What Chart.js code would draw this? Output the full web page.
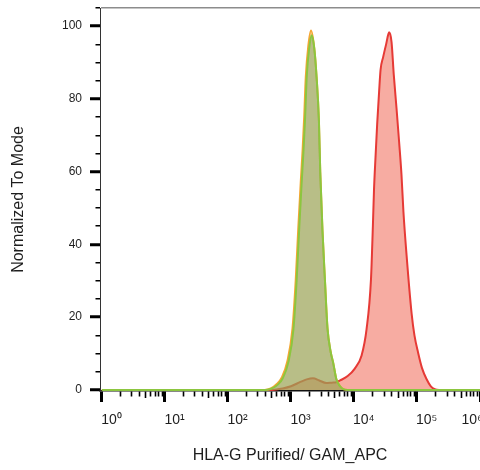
<!DOCTYPE html>
<html>
<head>
<meta charset="utf-8">
<script src="https://cdn.jsdelivr.net/npm/chart.js@4.4.1/dist/chart.umd.min.js"></script>
<style>
  html, body { margin: 0; padding: 0; background: #ffffff; }
  canvas { display: block; }
</style>
</head>
<body>
<canvas id="c" width="480" height="470"></canvas>
<script>
// ---- text ----
const xTitle = 'HLA-G Purified/ GAM_APC';
const yTitle = 'Normalized To Mode';

// ---- x axis: decades (log10 units) and their labels ----
const decades = [0, 1, 2, 3, 4, 5, 6];
const decadeLabels = ['10⁰', '10¹', '10²', '10³', '10⁴', '10⁵', '10⁶'];

// ---- y axis ----
const yLabelTicks = [0, 20, 40, 60, 80, 100];

// ---- series (x in log10 of intensity, y = % of mode) ----
const greenX = [0, 2.6, 2.7, 2.8, 2.87, 2.96, 3.04, 3.09, 3.13, 3.17, 3.2, 3.225, 3.25, 3.29, 3.328, 3.37, 3.407, 3.444, 3.465, 3.5, 3.54, 3.58, 3.63, 3.67, 3.72, 3.78, 3.83, 3.9, 6];
const greenY = [0, 0, 0.4, 1.6, 3.2, 7.7, 16.7, 30, 44, 57, 66, 75, 86, 94, 97.5, 94, 86, 74, 60, 44, 30, 17, 10.5, 7.5, 3, 1, 0.2, 0, 0];

const orangeX = [0, 2.58, 2.68, 2.78, 2.855, 2.945, 3.025, 3.075, 3.115, 3.155, 3.185, 3.21, 3.235, 3.275, 3.318, 3.37, 3.407, 3.444, 3.465, 3.5, 3.54, 3.58, 3.63, 3.67, 3.72, 3.78, 3.83, 3.9, 6];
const orangeY = [0, 0, 0.4, 1.7, 3.4, 8, 17, 30, 44, 57, 66, 75, 86, 94.5, 98.8, 94, 86, 74, 60, 44, 30, 17, 10.5, 7.5, 3, 1, 0.2, 0, 0];

const redX = [0, 2.7, 2.87, 3.0, 3.15, 3.25, 3.35, 3.45, 3.56, 3.65, 3.72, 3.78, 3.9, 4.01, 4.12, 4.2, 4.27, 4.3, 4.318, 4.342, 4.368, 4.399, 4.422, 4.463, 4.51, 4.558, 4.596, 4.632, 4.675, 4.716, 4.754, 4.785, 4.835, 4.915, 4.96, 5.017, 5.08, 5.151, 5.22, 5.282, 5.35, 6];
const redY = [0, 0, 0.4, 1.0, 2.2, 2.9, 3.2, 2.6, 1.9, 2.0, 2.1, 2.6, 3.8, 5.8, 9.4, 16.7, 30.4, 45, 55, 64, 73, 82, 88, 91.5, 95, 98.3, 95.7, 86.6, 77.5, 68.3, 59.2, 49, 37, 21, 15, 10.3, 6, 3, 1, 0.2, 0, 0];

const toPoints = (xs, ys) => xs.map((x, i) => ({ x: x, y: ys[i] }));

const FONT = "'Liberation Sans', Arial, Helvetica, sans-serif";
const isInt = v => Math.abs(v - Math.round(v)) < 1e-9;
const isFive = v => Math.abs((v - Math.floor(v + 1e-9)) - Math.log10(5)) < 1e-6;

new Chart(document.getElementById('c'), {
  type: 'line',
  data: {
    datasets: [
      {
        label: 'green',
        data: toPoints(greenX, greenY),
        borderColor: '#8cc63f',
        backgroundColor: 'rgba(130,163,96,0.55)',
        borderWidth: 2,
        pointRadius: 0,
        cubicInterpolationMode: 'monotone',
        fill: 'origin'
      },
      {
        label: 'orange',
        data: toPoints(orangeX, orangeY),
        borderColor: '#f5a632',
        backgroundColor: 'rgba(245,165,50,0.35)',
        borderWidth: 2,
        pointRadius: 0,
        cubicInterpolationMode: 'monotone',
        fill: 'origin'
      },
      {
        label: 'red',
        data: toPoints(redX, redY),
        borderColor: '#e63a36',
        backgroundColor: 'rgba(240,90,70,0.5)',
        borderWidth: 2,
        pointRadius: 0,
        cubicInterpolationMode: 'monotone',
        fill: 'origin'
      }
    ]
  },
  options: {
    responsive: false,
    devicePixelRatio: 1,
    animation: false,
    layout: { padding: { top: 8, right: 0, bottom: 0, left: 0 } },
    plugins: { legend: { display: false }, tooltip: { enabled: false } },
    scales: {
      x: {
        type: 'linear',
        min: -0.03,
        max: 6,
        afterBuildTicks: axis => {
          const t = [];
          decades.forEach((d, i) => {
            t.push({ value: d });
            if (i < decades.length - 1) {
              for (let k = 2; k <= 9; k++) t.push({ value: d + Math.log10(k) });
            }
          });
          axis.ticks = t;
        },
        afterFit: axis => { axis.height = 79; axis.paddingLeft = 0; axis.paddingRight = 0; },
        border: { display: true, color: '#111', width: 1.5 },
        grid: {
          drawOnChartArea: false,
          drawTicks: true,
          tickLength: 11,
          tickColor: '#000',
          tickWidth: ctx => (ctx.tick && isInt(ctx.tick.value)) ? 3 : 1.6,
          tickBorderDash: ctx => {
            if (!ctx.tick || isInt(ctx.tick.value)) return [];
            return isFive(ctx.tick.value) ? [6.5, 100] : [5, 100];
          }
        },
        ticks: {
          autoSkip: false,
          maxRotation: 0,
          minRotation: 0,
          padding: 9.5,
          color: '#1e1e1e',
          font: { family: FONT, size: 14 },
          callback: value => {
            const i = decades.indexOf(value);
            if (i < 0) return '';
            return i < decades.length - 1 ? '     ' + decadeLabels[i] : decadeLabels[i] + '    ';
          }
        },
        title: {
          display: true,
          text: xTitle,
          color: '#1e1e1e',
          font: { family: FONT, size: 16 },
          padding: { top: 0, bottom: 4.5 }
        }
      },
      y: {
        type: 'linear',
        min: -0.3,
        max: 105,
        afterBuildTicks: axis => {
          const t = [];
          for (let v = 0; v <= 105; v += 5) t.push({ value: v });
          axis.ticks = t;
        },
        afterFit: axis => { axis.width = 100; axis.paddingTop = 0; axis.paddingBottom = 0; },
        border: { display: true, color: '#333', width: 1 },
        grid: {
          drawOnChartArea: true,
          color: ctx => (ctx.tick && ctx.tick.value === 105) ? '#8c8c8c' : 'rgba(0,0,0,0)',
          lineWidth: 1.5,
          drawTicks: true,
          tickLength: 10,
          tickColor: '#000',
          tickWidth: ctx => (ctx.tick && ctx.tick.value % 20 === 0) ? 3 : 1.5,
          tickBorderDash: ctx => (ctx.tick && ctx.tick.value % 20 === 0) ? [] : [0, 5.5, 4.5, 100]
        },
        ticks: {
          autoSkip: false,
          padding: 8,
          color: '#1e1e1e',
          font: { family: FONT, size: 12 },
          callback: value => yLabelTicks.includes(value) ? String(value) : ''
        },
        title: {
          display: true,
          text: yTitle,
          color: '#1e1e1e',
          font: { family: FONT, size: 16 },
          padding: { top: 9, bottom: 0 }
        }
      }
    }
  }
});
</script>
</body>
</html>
